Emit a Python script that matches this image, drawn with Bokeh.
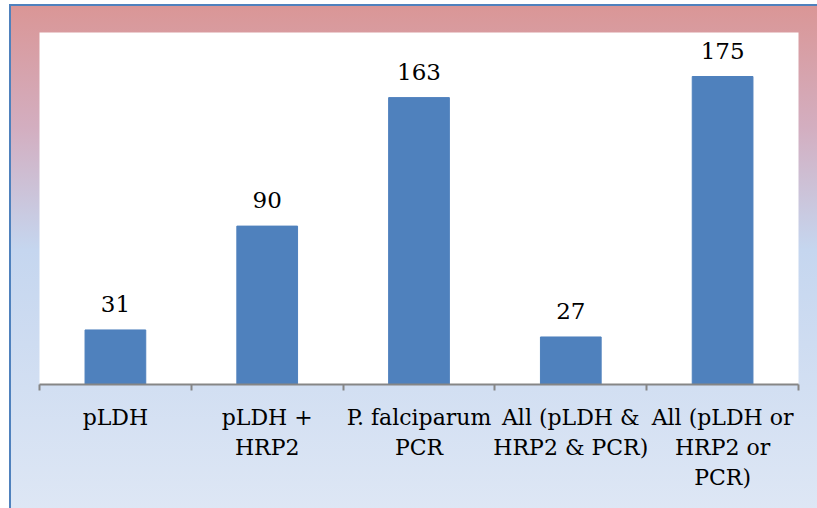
from bokeh.plotting import figure
from bokeh.models import Range1d, FixedTicker, ColumnDataSource
from bokeh.core.properties import value
from bokeh.embed import file_html
from bokeh.resources import INLINE

# ---- data ----
categories = ["pLDH", "pLDH +\nHRP2", "P. falciparum\nPCR",
              "All (pLDH &\nHRP2 & PCR)", "All (pLDH or\nHRP2 or\nPCR)"]
counts = [31, 90, 163, 27, 175]

W, H = 817, 508
FONT = "DejaVu Serif"

xs = [i + 0.5 for i in range(len(categories))]
src = ColumnDataSource(dict(x=xs, top=counts, label=[str(c) for c in counts]))

p = figure(width=W, height=H, output_backend="svg", toolbar_location=None,
           x_range=Range1d(0, len(categories)), y_range=Range1d(0, 200),
           y_axis_location=None,
           min_border_left=39, min_border_right=19, min_border_top=32,
           min_border_bottom=124)
p.outline_line_color = None
p.background_fill_color = "white"
p.border_fill_color = None
p.grid.visible = False

# gradient chart-area background with blue outer border (CSS on the plot element)
p.styles = {
    "background-color": "white",
    "background-image": ("linear-gradient(#4F81BD, #4F81BD), "
                         "linear-gradient(#4F81BD, #4F81BD), "
                         "linear-gradient(to bottom, rgb(218,150,150) 0%, "
                         "rgb(211,174,192) 24%, rgb(197,214,239) 48%, "
                         "rgb(222,231,245) 100%)"),
    "background-position": "9px 4px, 9px 4px, 11px 6px",
    "background-size": "2px 100%, 100% 2px, 100% 100%",
    "background-repeat": "no-repeat",
}

# ---- bars ----
p.vbar(x="x", top="top", width=0.40, bottom=0, source=src,
       fill_color="#4F81BD", line_color="#4F81BD")

p.text(x="x", y="top", text="label", source=src, y_offset=-18,
       text_align="center", text_baseline="bottom",
       text_font=value(FONT), text_font_size="23px", text_color="black")

# ---- axis ----
ax = p.xaxis[0]
ax.ticker = FixedTicker(ticks=xs, minor_ticks=list(range(len(categories) + 1)))
ax.major_label_overrides = {x: c for x, c in zip(xs, categories)}
ax.major_tick_line_color = None
ax.major_tick_out = 0
ax.major_tick_in = 0
ax.minor_tick_out = 6
ax.minor_tick_in = 0
ax.minor_tick_line_color = "#868686"
ax.minor_tick_line_width = 2
ax.axis_line_color = "#868686"
ax.axis_line_width = 2
ax.major_label_standoff = 14
ax.major_label_text_font = FONT
ax.major_label_text_font_size = "22px"
ax.major_label_text_color = "black"
ax.major_label_text_line_height = 1.2
ax.major_label_orientation = "horizontal"

open("out.html", "w").write(file_html(p, INLINE))
